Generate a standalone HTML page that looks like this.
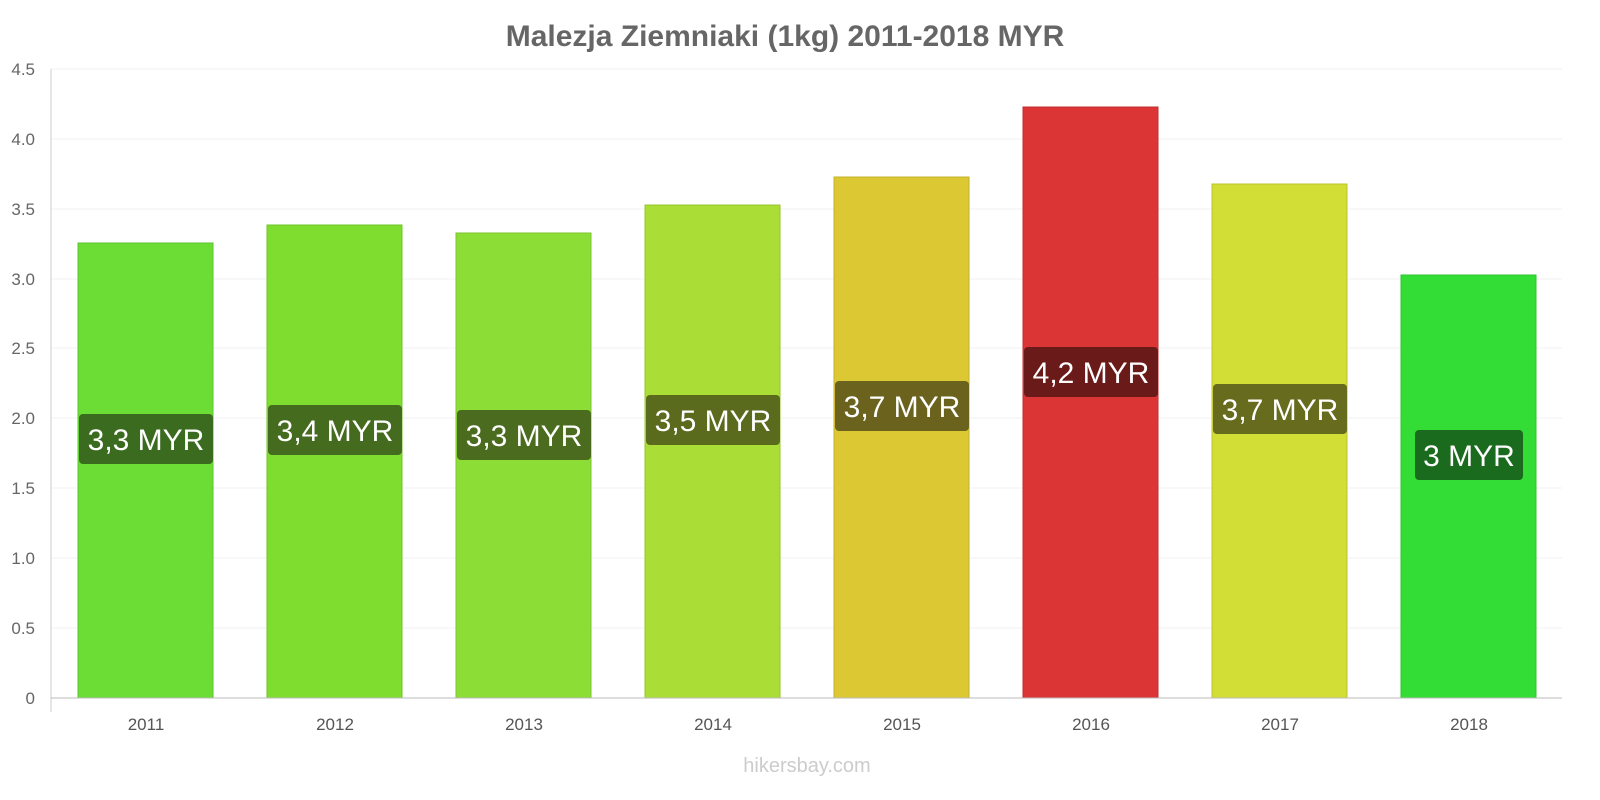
<!DOCTYPE html>
<html><head><meta charset="utf-8"><style>
html,body{margin:0;padding:0;background:#fff;overflow:hidden;width:1600px;height:800px;}
svg{display:block;font-family:"Liberation Sans",sans-serif;}
</style></head><body>
<svg width="1600" height="800" xmlns="http://www.w3.org/2000/svg">
<text x="785" y="46" text-anchor="middle" font-size="30" font-weight="bold" fill="#666">Malezja Ziemniaki (1kg) 2011-2018 MYR</text>
<g stroke="#f2f2f2" stroke-width="1">
<line x1="51" x2="1562" y1="69" y2="69"/><line x1="51" x2="1562" y1="139" y2="139"/>
<line x1="51" x2="1562" y1="209" y2="209"/><line x1="51" x2="1562" y1="279" y2="279"/>
<line x1="51" x2="1562" y1="348" y2="348"/><line x1="51" x2="1562" y1="418" y2="418"/>
<line x1="51" x2="1562" y1="488" y2="488"/><line x1="51" x2="1562" y1="558" y2="558"/>
<line x1="51" x2="1562" y1="628" y2="628"/>
</g>
<g font-size="17" fill="#666" text-anchor="end">
<text x="35" y="75">4.5</text><text x="35" y="145">4.0</text><text x="35" y="215">3.5</text>
<text x="35" y="285">3.0</text><text x="35" y="354">2.5</text><text x="35" y="424">2.0</text>
<text x="35" y="494">1.5</text><text x="35" y="564">1.0</text><text x="35" y="634">0.5</text>
<text x="35" y="704">0</text>
</g>
<g stroke-width="1">
<rect x="78" y="243" width="135" height="455" fill="#6bdd35" stroke="#5bc52d"/>
<rect x="267" y="225" width="135" height="473" fill="#7fdd30" stroke="#6fc52a"/>
<rect x="456" y="233" width="135" height="465" fill="#8cdd35" stroke="#7bc52d"/>
<rect x="645" y="205" width="135" height="493" fill="#aadd35" stroke="#97c52d"/>
<rect x="834" y="177" width="135" height="521" fill="#dcc832" stroke="#c4b22c"/>
<rect x="1023" y="107" width="135" height="591" fill="#dc3535" stroke="#c22e2e"/>
<rect x="1212" y="184" width="135" height="514" fill="#d2dd35" stroke="#bbc52d"/>
<rect x="1401" y="275" width="135" height="423" fill="#33dd35" stroke="#2cc52e"/>
</g>
<line x1="51" x2="51" y1="69" y2="712" stroke="#ccc"/>
<line x1="51" x2="1562" y1="698" y2="698" stroke="#bbb"/>
<g font-size="30" fill="#fff" text-anchor="middle">
<rect x="79" y="414" width="134" height="50" rx="4" fill="#3a6b1e"/><text x="146" y="450">3,3 MYR</text>
<rect x="268" y="405" width="134" height="50" rx="4" fill="#456b1e"/><text x="335" y="441">3,4 MYR</text>
<rect x="457" y="410" width="134" height="50" rx="4" fill="#4b6b1e"/><text x="524" y="446">3,3 MYR</text>
<rect x="646" y="395" width="134" height="50" rx="4" fill="#5a6b1e"/><text x="713" y="431">3,5 MYR</text>
<rect x="835" y="381" width="134" height="50" rx="4" fill="#6b621e"/><text x="902" y="417">3,7 MYR</text>
<rect x="1024" y="347" width="134" height="50" rx="4" fill="#6b1a1a"/><text x="1091" y="383">4,2 MYR</text>
<rect x="1213" y="384" width="134" height="50" rx="4" fill="#666b1e"/><text x="1280" y="420">3,7 MYR</text>
<rect x="1415" y="430" width="108" height="50" rx="4" fill="#1a6b1e"/><text x="1469" y="466">3 MYR</text>
</g>
<g font-size="17" fill="#555" text-anchor="middle">
<text x="146" y="730">2011</text><text x="335" y="730">2012</text><text x="524" y="730">2013</text>
<text x="713" y="730">2014</text><text x="902" y="730">2015</text><text x="1091" y="730">2016</text>
<text x="1280" y="730">2017</text><text x="1469" y="730">2018</text>
</g>
<text x="807" y="772" text-anchor="middle" font-size="20" fill="#ccc">hikersbay.com</text>
</svg>
</body></html>
